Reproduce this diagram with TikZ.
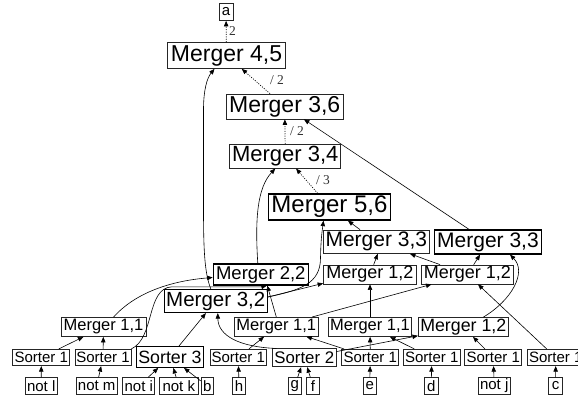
\documentclass[tikz,border=0pt]{standalone}
\usepackage{fontspec}
\setmainfont{Liberation Sans}
\newfontfamily\lblfont{Liberation Serif}
\usetikzlibrary{arrows.meta}
\begin{document}
\begin{tikzpicture}[x=1pt,y=-1pt,
  bx/.style n args={3}{draw=black!85, line width=0.7pt, rectangle, inner sep=0pt,
     minimum width=#1, minimum height=#2, font=\fontsize{#3}{#3}\selectfont},
  strong/.style={draw=black, line width=1.25pt},
  edge/.style={line width=0.6pt, -{Triangle[length=5.5pt,width=4.4pt]}},
  dot/.style={edge, line width=0.7pt, dash pattern=on 1pt off 1.4pt},
  lbl/.style={font=\lblfont\fontsize{13.5}{13.5}\selectfont, text=black!80, inner sep=0pt}]
\useasboundingbox (0,0) rectangle (578,404);
\clip (0,0) rectangle (578,404);
% upper mergers
\node[bx={14pt}{17pt}{15}] (a) at (226,12) {a};
\node[bx={118pt}{26pt}{23}] (M45) at (226.5,55.5) {Merger 4,5};
\node[bx={117pt}{25pt}{23}] (M36) at (284.7,106.5) {Merger 3,6};
\node[bx={111pt}{24pt}{22}] (M34) at (285.3,156.2) {Merger 3,4};
\node[bx={122pt}{26pt}{24},strong] (M56) at (329.5,207) {Merger 5,6};
\node[bx={106pt}{23.5pt}{21}] (M33L) at (376.3,241.7) {Merger 3,3};
\node[bx={107pt}{24pt}{21},strong] (M33R) at (488,242) {Merger 3,3};
\node[bx={95pt}{21pt}{18.5},strong] (M22) at (260.8,274.5) {Merger 2,2};
\node[bx={93pt}{19pt}{18}] (M12M) at (370,274.5) {Merger 1,2};
\node[bx={92pt}{19pt}{18}] (M12R) at (467.5,274.5) {Merger 1,2};
\node[bx={103pt}{23pt}{20.5},strong] (M32) at (215.8,301) {Merger 3,2};
\node[bx={85pt}{19pt}{16.5}] (M11L) at (103.5,327) {Merger 1,1};
\node[bx={84pt}{19pt}{16.5}] (M11ML) at (276.3,326.8) {Merger 1,1};
\node[bx={83.5pt}{19pt}{16.5}] (M11M) at (370,327) {Merger 1,1};
\node[bx={90pt}{19pt}{17.8}] (M12B) at (463.3,327) {Merger 1,2};
% sorters
\node[bx={57pt}{16.5pt}{15}] (S1a) at (41.3,357.5) {Sorter 1};
\node[bx={56pt}{16.5pt}{15}] (S1b) at (103,357.5) {Sorter 1};
\node[bx={66.7pt}{20.6pt}{17.8},strong] (S3) at (170,357) {Sorter 3};
\node[bx={56.7pt}{16.5pt}{15}] (S1d) at (238.3,357.5) {Sorter 1};
\node[bx={63.3pt}{18pt}{16.8}] (S2) at (304.3,357.8) {Sorter 2};
\node[bx={57pt}{16.5pt}{15}] (S1f) at (370.3,357.5) {Sorter 1};
\node[bx={57pt}{16.5pt}{15}] (S1g) at (431.7,357.5) {Sorter 1};
\node[bx={57pt}{16.5pt}{15}] (S1h) at (493.3,357.5) {Sorter 1};
\node[bx={57pt}{16.5pt}{15}] (S1i) at (555.8,357.5) {Sorter 1};
% leaves
\node[bx={32pt}{16.5pt}{15}] (notl) at (41.2,386) {not l};
\node[bx={41pt}{16.5pt}{15}] (notm) at (96.7,386) {not m};
\node[bx={32pt}{16.5pt}{15}] (noti) at (138.8,386) {not i};
\node[bx={39pt}{16.5pt}{15}] (notk) at (178.8,386) {not k};
\node[bx={12.3pt}{16.5pt}{15}] (b) at (207.2,386) {b};
\node[bx={13.3pt}{16.5pt}{15}] (h) at (239,386) {h};
\node[bx={12.7pt}{16.5pt}{15}] (g) at (294.7,386) {g};
\node[bx={12.7pt}{16.5pt}{15}] (f) at (313,386) {f};
\node[bx={12.7pt}{16.5pt}{15}] (e) at (369.7,386) {e};
\node[bx={14pt}{16.5pt}{15}] (d) at (431.3,386) {d};
\node[bx={31.7pt}{16.5pt}{15}] (notj) at (494.2,386) {not j};
\node[bx={14.3pt}{16.5pt}{15}] (c) at (555.5,386) {c};
% edge labels
\node[lbl] (l1) at (232.5,31) {2};
\node[lbl] (l2) at (277,80.5) {/ 2};
\node[lbl] (l3) at (297,131) {/ 2};
\node[lbl] (l4) at (323,180.5) {/ 3};
% dotted edges
\draw[dot] (M45) -- (a);
\draw[dot] (M36) -- (M45);
\draw[dot] (M34) -- (M36);
\draw[dot] (M56) -- (M34);
% leaves to sorters
\draw[edge] (notl) -- (S1a);
\draw[edge] (notm) -- (S1b);
\draw[edge] (noti) -- (S3);
\draw[edge] (notk) -- (S3);
\draw[edge] (b) -- (S3);
\draw[edge] (h) -- (S1d);
\draw[edge] (g) -- (S2);
\draw[edge] (f) -- (S2);
\draw[edge] (e) -- (S1f);
\draw[edge] (d) -- (S1g);
\draw[edge] (notj) -- (S1h);
\draw[edge] (c) -- (S1i);
% sorters to mergers
\draw[edge] (S1a) -- (M11L);
\draw[edge] (S1b) -- (M11L);
\draw[edge] (S1b.north east) .. controls (155,338) and (146,288) .. (172,286.8) -- (255,286.8) .. controls (262,286.8) .. ([xshift=6pt]M22.south);
\draw[edge] (S3) -- (M32);
\draw[edge] ([xshift=4pt]S2.north west) .. controls (240,347) and (218,336) .. ([xshift=2pt]M32.south);
\draw[edge] (S1d) -- (M11ML);
\draw[edge] (S1f) -- (M11ML);
\draw[edge] (S2) -- (M12B);
\draw[edge] (S1f) -- (M11M);
\draw[edge] (S1g) -- (M11M);
\draw[edge] (S1h) -- (M12B);
\draw[edge] (S1i) -- (M12R);
% middle layer
\draw[edge] ([xshift=10pt]M11L.north) .. controls (135,293) and (170,281) .. ([yshift=-3pt]M22.west);
\draw[edge] (M11ML.north) -- ([xshift=6.5pt]M22.south);
\draw[edge] (M11ML) -- (M12R);
\draw[edge] (M11M) -- (M12M);
\draw[edge] ([xshift=20pt]M12B.north) .. controls (512,300) and (527,272) .. ([xshift=22pt]M33R.south);
\draw[edge] (M12R) -- (M33R);
\draw[edge] (M12R) -- (M33L);
\draw[edge] (M12M) -- ([xshift=1.5pt]M33L.south);
\draw[edge] (M33L) -- (M56);
\draw[edge] ([yshift=4pt]M32.east) .. controls (300,290) and (320.5,284) .. (320.5,258) .. controls (320.8,240) and (322,232) .. ([xshift=-6pt]M56.south);
\draw[edge] ([yshift=4pt]M32.east) -- ([yshift=1pt]M12M.south west);
\draw[edge] ([xshift=-5pt]M32.north) .. controls (204,272) and (203.5,245) .. (203.5,205) -- (203.5,110) .. controls (203.5,90) and (207,78) .. ([xshift=-12pt]M45.south);
\draw[edge] ([xshift=-3pt]M22.north) .. controls (255,220) and (257,188) .. ([xshift=-10pt]M34.south);
\draw[edge] (M33R) -- (M36);
\end{tikzpicture}
\end{document}
